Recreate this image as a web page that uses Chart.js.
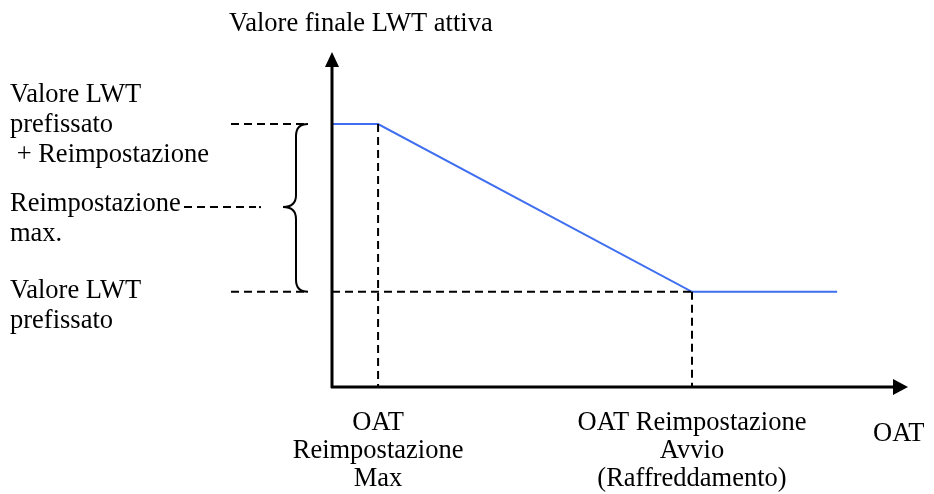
<!DOCTYPE html>
<html>
<head>
<meta charset="utf-8">
<script src="https://cdn.jsdelivr.net/npm/chart.js@4/dist/chart.umd.min.js"></script>
<style>
  html, body { margin: 0; padding: 0; background: #ffffff; }
  canvas { display: block; }
</style>
</head>
<body>
<canvas id="c" width="934" height="494"></canvas>
<script>
// ---- data (schematic units: OAT 0..100 along x axis, LWT 0..100 along y axis) ----
const oatPoints = [0, 8, 62.5, 87.7];          // OAT positions of the curve break points
const lwtValues = [78.5, 78.5, 28.4, 28.4];     // active LWT setpoint at those points
const oatMaxReset = 8;                           // OAT Reimpostazione Max
const oatStartReset = 62.5;                      // OAT Reimpostazione Avvio
const lwtSetpointPlusReset = 78.5;               // Valore LWT prefissato + Reimpostazione
const lwtSetpoint = 28.4;                        // Valore LWT prefissato
const lwtMaxResetMid = 53.7;                     // middle of the max reset span

// ---- texts ----
const titleText = 'Valore finale LWT attiva';
const yLabelTop = ['Valore LWT', 'prefissato', ' + Reimpostazione'];
const yLabelMid = ['Reimpostazione', 'max.'];
const yLabelLow = ['Valore LWT', 'prefissato'];
const xLabelMax = ['OAT', 'Reimpostazione', 'Max'];
const xLabelStart = ['OAT Reimpostazione', 'Avvio', '(Raffreddamento)'];
const xAxisName = 'OAT';

const FONT = '26.5px "Liberation Serif", "Times New Roman", serif';
const DASH = [8, 5];

const curve = oatPoints.map((x, i) => ({ x: x, y: lwtValues[i] }));

function guide(points) {
  return {
    data: points,
    borderColor: '#000000',
    borderWidth: 2,
    borderDash: DASH,
    pointRadius: 0,
    tension: 0,
    clip: false,
    fill: false
  };
}

const overlay = {
  id: 'overlay',
  afterDraw(chart) {
    const ctx = chart.ctx;
    const xs = chart.scales.x, ys = chart.scales.y;
    const x0 = xs.getPixelForValue(0), y0 = ys.getPixelForValue(0);
    const xEnd = xs.getPixelForValue(100), yEnd = ys.getPixelForValue(100);
    const yHi = ys.getPixelForValue(lwtSetpointPlusReset);
    const yLo = ys.getPixelForValue(lwtSetpoint);
    const yMid = ys.getPixelForValue(lwtMaxResetMid);
    const xMax = xs.getPixelForValue(oatMaxReset);
    const xStart = xs.getPixelForValue(oatStartReset);

    ctx.save();
    // axes
    ctx.strokeStyle = '#000'; ctx.fillStyle = '#000'; ctx.lineWidth = 3; ctx.setLineDash([]);
    ctx.beginPath();
    ctx.moveTo(x0, y0 + 1); ctx.lineTo(x0, yEnd + 14);
    ctx.moveTo(x0 - 1, y0); ctx.lineTo(xEnd - 14, y0);
    ctx.stroke();
    ctx.beginPath();
    ctx.moveTo(x0, yEnd); ctx.lineTo(x0 - 7, yEnd + 15); ctx.lineTo(x0 + 7, yEnd + 15); ctx.closePath(); ctx.fill();
    ctx.beginPath();
    ctx.moveTo(xEnd, y0); ctx.lineTo(xEnd - 15, y0 - 8); ctx.lineTo(xEnd - 15, y0 + 8); ctx.closePath(); ctx.fill();

    // leader lines on the left
    ctx.lineWidth = 2; ctx.setLineDash(DASH);
    ctx.beginPath();
    ctx.moveTo(231, yHi); ctx.lineTo(308, yHi);
    ctx.moveTo(231, yLo); ctx.lineTo(308, yLo);
    ctx.moveTo(184, yMid); ctx.lineTo(256, yMid);
    ctx.stroke();
    ctx.setLineDash([]);
    ctx.fillRect(259, yMid - 1, 2, 2);

    // brace
    const bx = 296, r = 12;
    ctx.lineWidth = 2;
    ctx.beginPath();
    ctx.moveTo(bx + r, yHi);
    ctx.quadraticCurveTo(bx, yHi, bx, yHi + r);
    ctx.lineTo(bx, yMid - r);
    ctx.quadraticCurveTo(bx, yMid, bx - 13, yMid);
    ctx.quadraticCurveTo(bx, yMid, bx, yMid + r);
    ctx.lineTo(bx, yLo - r);
    ctx.quadraticCurveTo(bx, yLo, bx + r, yLo);
    ctx.stroke();

    // texts
    ctx.font = FONT; ctx.fillStyle = '#000'; ctx.textBaseline = 'alphabetic';
    ctx.textAlign = 'left';
    ctx.fillText(titleText, 229, 31);
    yLabelTop.forEach((t, i) => ctx.fillText(t, 10, 102 + i * 30));
    yLabelMid.forEach((t, i) => ctx.fillText(t, 10, 211 + i * 30));
    yLabelLow.forEach((t, i) => ctx.fillText(t, 10, 298 + i * 30));
    ctx.fillText(xAxisName, 873, 441);
    ctx.textAlign = 'center';
    xLabelMax.forEach((t, i) => ctx.fillText(t, xMax, 430 + i * 28));
    xLabelStart.forEach((t, i) => ctx.fillText(t, xStart, 430 + i * 28));
    ctx.restore();
  }
};

new Chart(document.getElementById('c'), {
  type: 'line',
  data: {
    datasets: [
      guide([{ x: 0, y: lwtSetpoint }, { x: oatStartReset, y: lwtSetpoint }]),
      guide([{ x: oatMaxReset, y: lwtSetpointPlusReset }, { x: oatMaxReset, y: 0 }]),
      guide([{ x: oatStartReset, y: lwtSetpoint }, { x: oatStartReset, y: 0 }]),
      {
        data: curve,
        borderColor: '#3f6ff0',
        borderWidth: 2,
        pointRadius: 0,
        tension: 0,
        clip: false,
        fill: false
      }
    ]
  },
  options: {
    responsive: false,
    animation: false,
    layout: { padding: { left: 332, right: 26, top: 52, bottom: 107 } },
    scales: {
      x: { type: 'linear', min: 0, max: 100, display: false },
      y: { type: 'linear', min: 0, max: 100, display: false }
    },
    plugins: { legend: { display: false }, tooltip: { enabled: false } }
  },
  plugins: [overlay]
});
</script>
</body>
</html>
